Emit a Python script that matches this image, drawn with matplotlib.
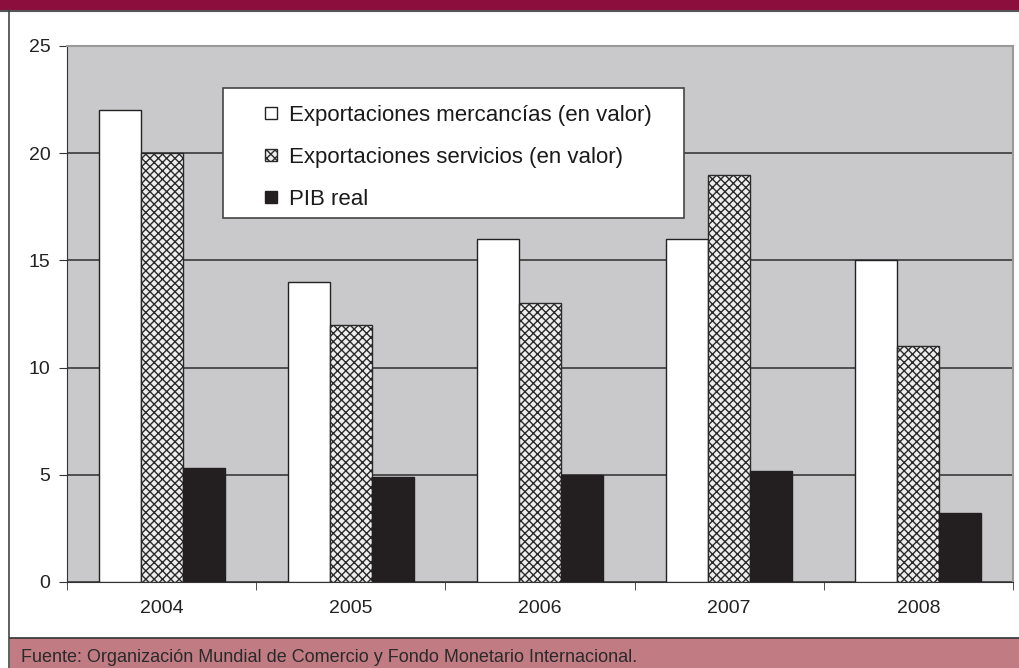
import matplotlib
matplotlib.use("Agg")
import matplotlib.pyplot as plt
import numpy as np
from matplotlib.patches import Rectangle, Patch
from matplotlib.lines import Line2D
from matplotlib.legend_handler import HandlerPatch

plt.rcParams['font.family'] = ['Liberation Sans', 'DejaVu Sans']
plt.rcParams['hatch.linewidth'] = 1.0
plt.rcParams['hatch.color'] = '#2a2a2a'

years = ['2004', '2005', '2006', '2007', '2008']
mercancias = [22, 14, 16, 16, 15]
servicios = [20, 12, 13, 19, 11]
pib_real = [5.3, 4.9, 5.0, 5.2, 3.2]
series_labels = ['Exportaciones mercancías (en valor)',
                 'Exportaciones servicios (en valor)',
                 'PIB real']
source = 'Fuente: Organización Mundial de Comercio y Fondo Monetario Internacional.'

W, H = 1020, 668
fig = plt.figure(figsize=(W / 100, H / 100), dpi=100)
fig.patch.set_facecolor('white')

# frame decorations (top band, left rule, source band)
fig.patches.append(Rectangle((0, 1 - 10 / H), 1, 10 / H, transform=fig.transFigure,
                             facecolor='#8C0E3C', edgecolor='none', zorder=0))
fig.add_artist(Line2D([0, 1], [1 - 10.5 / H, 1 - 10.5 / H], transform=fig.transFigure,
                      color='#555555', lw=1.5))
fig.patches.append(Rectangle((10 / W, 0), 1, 30 / H, transform=fig.transFigure,
                             facecolor='#C17B83', edgecolor='none', zorder=0))
fig.add_artist(Line2D([9.5 / W, 9.5 / W], [0, 1 - 10 / H], transform=fig.transFigure,
                      color='#444444', lw=1.2))
fig.add_artist(Line2D([10 / W, 1], [30.5 / H, 30.5 / H], transform=fig.transFigure,
                      color='#333333', lw=1.2))
fig.text(21 / W, 5.5 / H, source, fontsize=13, color='#2a2a2a', va='baseline', ha='left')

ax = fig.add_axes([67 / W, 86 / H, 946 / W, 536 / H])
ax.set_facecolor('#C9C9CB')

x = np.arange(len(years))
w = 0.222
ax.bar(x - w, mercancias, w, color='white', edgecolor='#222222', lw=1, zorder=3)
ax.bar(x, servicios, w, color='#eeeeee', edgecolor='#2a2a2a', hatch='xxxx', lw=1, zorder=3)
ax.bar(x + w, pib_real, w, color='#231F20', edgecolor='#231F20', lw=1, zorder=3)

ax.set_xlim(-0.5, len(years) - 0.5)
ax.set_ylim(0, 25)
ax.set_yticks([0, 5, 10, 15, 20, 25])
ax.yaxis.grid(True, color='#3a3a3a', lw=1.2)
ax.set_axisbelow(True)
ax.set_xticks(x)
ax.set_xticklabels(years)
ax.set_xticks(np.arange(-0.5, len(years)), minor=True)
ax.tick_params(axis='x', which='major', length=0, pad=13, labelsize=14, labelcolor='#222222')
ax.tick_params(axis='x', which='minor', length=6, direction='out', color='#333333')
ax.tick_params(axis='y', length=6, direction='out', color='#333333', labelsize=14,
               labelcolor='#222222', pad=6)
for s in ['left', 'bottom']:
    ax.spines[s].set_color('#333333')
for s in ['top', 'right']:
    ax.spines[s].set_color('#999999')
    ax.spines[s].set_linewidth(1.5)


# small square drawn at the right end of the handle area
def small_square(legend, orig_handle, xdescent, ydescent, width, height, fontsize):
    s = 9
    return Rectangle((width - s - xdescent, (height - s) / 2 - ydescent), s, s)


handles = [Patch(facecolor='white', edgecolor='#222222'),
           Patch(facecolor='#eeeeee', edgecolor='#2a2a2a', hatch='xxxx'),
           Patch(facecolor='#231F20', edgecolor='#231F20')]
box = Rectangle((223 / W, 1 - 218 / H), (684 - 223) / W, 130 / H,
                transform=fig.transFigure, facecolor='white',
                edgecolor='#444444', lw=1.2, zorder=4.5, clip_on=False)
ax.add_patch(box)
leg = ax.legend(handles, series_labels, loc='upper left',
                bbox_to_anchor=((223 - 67) / 946, (582 - 88) / 536),
                fontsize=16, frameon=False, handlelength=1.68, handleheight=0.7,
                handletextpad=0.55, labelspacing=0.95, borderpad=0.75,
                borderaxespad=0, labelcolor='#1a1a1a',
                handler_map={Patch: HandlerPatch(patch_func=small_square)})
leg.set_zorder(5)

fig.savefig('out.png', dpi=100)
